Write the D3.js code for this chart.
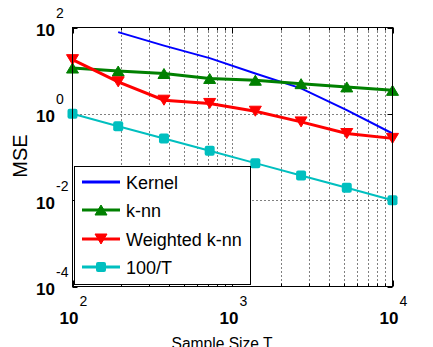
<!DOCTYPE html>
<html>
<head>
<meta charset="utf-8">
<script src="https://cdn.jsdelivr.net/npm/d3@7"></script>
<style>
  body { margin: 0; background: #fff; }
  text { font-family: "Liberation Sans", Arial, sans-serif; fill: #000; }
</style>
</head>
<body>
<svg id="chart" width="433" height="347"></svg>
<script>
// values
var sampleSize = [100, 193, 373, 720, 1389, 2683, 5179, 10000];
var kernel = [null, 78, 38, 19.5, 8.6, 3.9, 1.22, 0.35];
var knn = [11.5, 9.8, 8.6, 6.6, 6.0, 5.0, 4.2, 3.5];
var weightedKnn = [18, 5.5, 2.07, 1.74, 1.15, 0.65, 0.35, 0.27];
var inverseT = [1, 0.518, 0.268, 0.139, 0.072, 0.0373, 0.0193, 0.01];

var xMajor = [100, 1000, 10000];
var xExp = ["2", "3", "4"];
var yMajor = [100, 1, 0.01, 0.0001];
var yExp = ["2", "0", "-2", "-4"];

var series = [
  {name: "Kernel", values: kernel, color: "#0000ff", width: 2, marker: null},
  {name: "k-nn", values: knn, color: "#008000", width: 3, marker: "up"},
  {name: "Weighted k-nn", values: weightedKnn, color: "#ff0000", width: 3, marker: "down"},
  {name: "100/T", values: inverseT, color: "#00bfbf", width: 2, marker: "square"}
];

var svg = d3.select("#chart");
var pLeft = 72.5, pRight = 392.5, pTop = 27.5, pBottom = 286.5;

var x = d3.scaleLog().domain([100, 10000]).range([pLeft, pRight]);
var y = d3.scaleLog().domain([0.0001, 100]).range([pBottom, pTop]);

// grid
var grid = svg.append("g").attr("stroke", "#000").attr("stroke-width", 1).attr("stroke-dasharray", "1,3");
grid.selectAll(".vx").data(x.ticks().filter(function(d) { return d > 100 && d < 10000; }))
  .enter().append("line")
  .attr("x1", function(d) { return Math.round(x(d)) + 0.5; })
  .attr("x2", function(d) { return Math.round(x(d)) + 0.5; })
  .attr("y1", pTop).attr("y2", pBottom);
grid.selectAll(".hy").data([1, 0.01])
  .enter().append("line")
  .attr("y1", function(d) { return Math.round(y(d)) + 0.5; })
  .attr("y2", function(d) { return Math.round(y(d)) + 0.5; })
  .attr("x1", pLeft).attr("x2", pRight);

// ticks (inward, on all four sides)
var ticks = svg.append("g").attr("stroke", "#000").attr("stroke-width", 1);
x.ticks().forEach(function(d) {
  var len = xMajor.indexOf(d) >= 0 ? 6 : 3;
  var px = Math.round(x(d)) + 0.5;
  ticks.append("line").attr("x1", px).attr("x2", px).attr("y1", pBottom).attr("y2", pBottom - len);
  ticks.append("line").attr("x1", px).attr("x2", px).attr("y1", pTop).attr("y2", pTop + len);
});
yMajor.forEach(function(d) {
  var py = Math.round(y(d)) + 0.5;
  ticks.append("line").attr("y1", py).attr("y2", py).attr("x1", pLeft).attr("x2", pLeft + 5);
  ticks.append("line").attr("y1", py).attr("y2", py).attr("x1", pRight).attr("x2", pRight - 5);
});

// series
var line = d3.line()
  .defined(function(d) { return d.v != null; })
  .x(function(d) { return x(d.t); })
  .y(function(d) { return y(d.v); });

function drawMarker(g, type, cx, cy, color) {
  if (type === "up") {
    g.append("path").attr("d", "M" + (cx - 6) + "," + (cy + 5) + "L" + (cx + 6) + "," + (cy + 5) + "L" + cx + "," + (cy - 5) + "Z")
      .attr("fill", color).attr("stroke", color).attr("stroke-width", 1);
  } else if (type === "down") {
    g.append("path").attr("d", "M" + (cx - 6) + "," + (cy - 5) + "L" + (cx + 6) + "," + (cy - 5) + "L" + cx + "," + (cy + 5) + "Z")
      .attr("fill", color).attr("stroke", color).attr("stroke-width", 1);
  } else if (type === "square") {
    g.append("rect").attr("x", cx - 5).attr("y", cy - 5).attr("width", 10).attr("height", 10)
      .attr("rx", 2).attr("fill", color);
  }
}

series.forEach(function(s) {
  var pts = sampleSize.map(function(t, i) { return {t: t, v: s.values[i]}; });
  var g = svg.append("g");
  g.append("path").datum(pts).attr("d", line)
    .attr("fill", "none").attr("stroke", s.color).attr("stroke-width", s.width);
  if (s.marker) {
    pts.forEach(function(p) {
      if (p.v != null) drawMarker(g, s.marker, x(p.t), y(p.v), s.color);
    });
  }
});

// axes box
svg.append("rect").attr("x", pLeft).attr("y", pTop).attr("width", pRight - pLeft).attr("height", pBottom - pTop)
  .attr("fill", "none").attr("stroke", "#000").attr("stroke-width", 1);

// tick labels
xMajor.forEach(function(d, i) {
  var px = x(d);
  svg.append("text").attr("x", px + 6).attr("y", 324).attr("text-anchor", "end")
    .attr("font-size", 17).attr("font-weight", "bold").text("10");
  svg.append("text").attr("x", px + 7).attr("y", 306).attr("font-size", 14).text(xExp[i]);
});
yMajor.forEach(function(d, i) {
  var py = y(d);
  svg.append("text").attr("x", 55).attr("y", py + 8.5).attr("text-anchor", "end")
    .attr("font-size", 17).attr("font-weight", "bold").text("10");
  svg.append("text").attr("x", 56).attr("y", py - 9.5).attr("font-size", 14).text(yExp[i]);
});

// axis titles
svg.append("text").attr("x", 222).attr("y", 349).attr("text-anchor", "middle")
  .attr("font-size", 16).attr("textLength", 101).attr("lengthAdjust", "spacingAndGlyphs").text("Sample Size T");
svg.append("text").attr("transform", "translate(27,156) rotate(-90)").attr("text-anchor", "middle")
  .attr("font-size", 20).text("MSE");

// legend
var legend = svg.append("g");
legend.append("rect").attr("x", 74.5).attr("y", 166.5).attr("width", 176).attr("height", 118)
  .attr("fill", "#fff").attr("stroke", "#000").attr("stroke-width", 1);
var rowY = [182, 210, 239, 267];
series.forEach(function(s, i) {
  legend.append("line").attr("x1", 82).attr("x2", 120).attr("y1", rowY[i]).attr("y2", rowY[i])
    .attr("stroke", s.color).attr("stroke-width", 3);
  if (s.marker) drawMarker(legend, s.marker, 101, rowY[i], s.color);
  legend.append("text").attr("x", 126).attr("y", rowY[i] + 6.5).attr("font-size", 18).text(s.name);
});
</script>
</body>
</html>
